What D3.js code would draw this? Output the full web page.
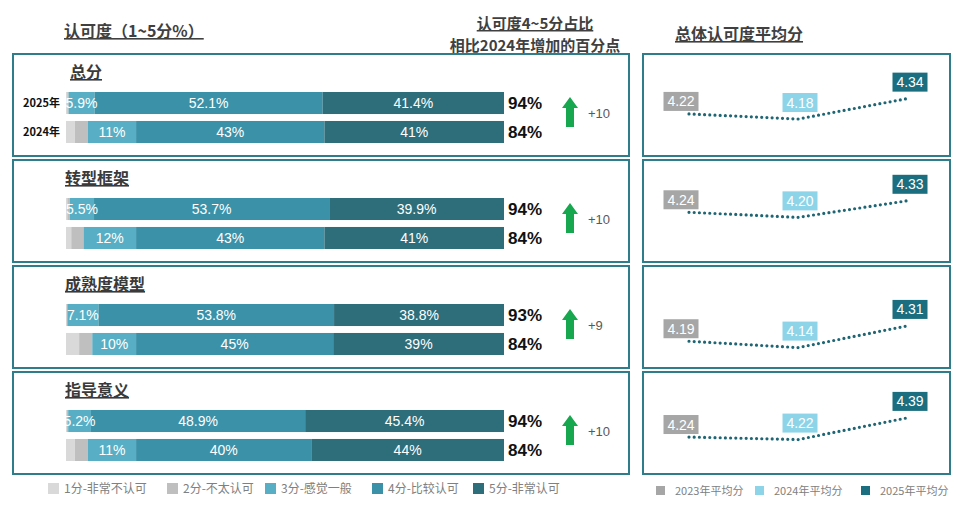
<!DOCTYPE html>
<html>
<head>
<meta charset="utf-8">
<script src="https://cdn.jsdelivr.net/npm/d3@7"></script>
<style>
  body { margin: 0; background: #fff; }
  text { font-family: "Liberation Sans", Arial, "Noto Sans CJK SC", sans-serif; }
</style>
</head>
<body>
<svg id="chart" width="959" height="518"></svg>
<script>
// data
const dims = ['总分', '转型框架', '成熟度模型', '指导意义'];
const years = ['2025年', '2024年'];
const levels = ['1分-非常不认可', '2分-不太认可', '3分-感觉一般', '4分-比较认可', '5分-非常认可'];
const share2025 = [
  [0.3, 0.3, 5.9, 52.1, 41.4],
  [0.3, 0.6, 5.5, 53.7, 39.9],
  [0.1, 0.2, 7.1, 53.8, 38.8],
  [0.2, 0.3, 5.2, 48.9, 45.4]
];
const share2024 = [
  [2, 3, 11, 43, 41],
  [1.2, 2.8, 12, 43, 41],
  [3, 3, 10, 45, 39],
  [2, 3, 11, 40, 44]
];
const top2025 = [94, 94, 93, 94];
const top2024 = [84, 84, 84, 84];
const gain = [10, 10, 9, 10];
const avgYears = ['2023年平均分', '2024年平均分', '2025年平均分'];
const avg2023 = [4.22, 4.24, 4.19, 4.24];
const avg2024 = [4.18, 4.20, 4.14, 4.22];
const avg2025 = [4.34, 4.33, 4.31, 4.39];
// lower end of each small chart's value axis (span 0.8)
const avgAxisMin = [3.89, 3.85, 3.98, 3.95];

const levelColors = ['#d9d9d9', '#bfbfbf', '#58aec4', '#3b91a8', '#2e6e7b'];
const avgColors = ['#a6a6a6', '#8dd4e8', '#1b6e7f'];
const border = '#2f7c8a';
const cjk = '"Noto Sans CJK SC", "Liberation Sans", sans-serif';

const svg = d3.select('#chart');

// panel rows
const panelY = d3.scaleBand().domain(dims).range([54, 474]).paddingInner(4 / 106);
const ph = panelY.bandwidth();

// bar scales
const x = d3.scaleLinear().domain([0, 100]).range([66, 504]);
const rowY = d3.scaleBand().domain(years).range([38, 89]).paddingInner(0.24);

// headers
svg.append('text').attr('x', 64).attr('y', 37)
  .style('font-family', cjk).style('font-size', '16px').style('font-weight', 'bold')
  .style('fill', '#404040').style('text-decoration', 'underline')
  .text('认可度（1~5分%）');
svg.append('text').attr('x', 535).attr('y', 29).attr('text-anchor', 'middle')
  .style('font-family', cjk).style('font-size', '15px').style('font-weight', 'bold')
  .style('fill', '#404040').style('text-decoration', 'underline')
  .text('认可度4~5分占比');
svg.append('text').attr('x', 535).attr('y', 51).attr('text-anchor', 'middle')
  .style('font-family', cjk).style('font-size', '15px').style('font-weight', 'bold')
  .style('fill', '#404040')
  .text('相比2024年增加的百分点');
svg.append('text').attr('x', 675).attr('y', 40)
  .style('font-family', cjk).style('font-size', '16px').style('font-weight', 'bold')
  .style('fill', '#404040').style('text-decoration', 'underline')
  .text('总体认可度平均分');

dims.forEach((dim, i) => {
  const top = panelY(dim);
  const g = svg.append('g').attr('transform', 'translate(0,' + top + ')');

  g.append('rect').attr('x', 13).attr('y', 0).attr('width', 616).attr('height', ph)
    .style('fill', 'none').style('stroke', border).style('stroke-width', 2);

  g.append('text').attr('x', i === 0 ? 70 : 65).attr('y', 24)
    .style('font-family', cjk).style('font-size', '16px').style('font-weight', 'bold')
    .style('fill', '#3a3a3a').style('text-decoration', 'underline')
    .text(dim);

  const rows = [
    { year: years[0], vals: share2025[i], top: top2025[i], fmt: d3.format('.1f') },
    { year: years[1], vals: share2024[i], top: top2024[i], fmt: d3.format('.0f') }
  ];

  rows.forEach((row) => {
    const y0 = rowY(row.year);
    const bh = rowY.bandwidth();
    let acc = 0;
    const segs = row.vals.map((v, k) => {
      const s = { k: k, v: v, x0: acc, x1: acc + v };
      acc += v;
      return s;
    });
    const rg = g.append('g');
    rg.selectAll('rect').data(segs).enter().append('rect')
      .attr('x', (d) => x(d.x0))
      .attr('y', y0)
      .attr('width', (d) => x(d.x1) - x(d.x0))
      .attr('height', bh)
      .style('fill', (d) => levelColors[d.k]);
    // white labels: the part that runs past the bar start disappears on white
    rg.selectAll('text').data(segs.filter((d) => d.k >= 2)).enter().append('text')
      .attr('x', (d) => (x(d.x0) + x(d.x1)) / 2)
      .attr('y', y0 + bh / 2 + 5)
      .attr('text-anchor', 'middle')
      .style('font-size', '14px').style('fill', '#fff')
      .text((d) => row.fmt(d.v) + '%');
    if (i === 0) {
      g.append('text').attr('x', 60).attr('y', y0 + bh / 2 + 4).attr('text-anchor', 'end')
        .style('font-family', cjk).style('font-size', '11px').style('font-weight', 'bold')
        .style('fill', '#111').text(row.year);
    }
    g.append('text').attr('x', 508).attr('y', y0 + bh / 2 + 6)
      .style('font-size', '17px').style('font-weight', 'bold').style('fill', '#111')
      .text(row.top + '%');
  });

  // green arrow
  const ax = 570, ay0 = 43, ay1 = 73;
  g.append('path')
    .attr('d', `M${ax},${ay0} L${ax + 8},${ay0 + 11} L${ax + 4},${ay0 + 11} L${ax + 4},${ay1}
      L${ax - 4},${ay1} L${ax - 4},${ay0 + 11} L${ax - 8},${ay0 + 11} Z`)
    .style('fill', '#17a84f');
  g.append('text').attr('x', 588).attr('y', 64)
    .style('font-size', '13px').style('fill', '#595959')
    .text('+' + gain[i]);

  // right panel: average scores
  const rg = svg.append('g').attr('transform', 'translate(0,' + top + ')');
  rg.append('rect').attr('x', 643).attr('y', 0).attr('width', 307).attr('height', ph)
    .style('fill', 'none').style('stroke', border).style('stroke-width', 2);

  const ax2 = d3.scalePoint().domain(avgYears).range([689, 907]);
  const ay = d3.scaleLinear().domain([avgAxisMin[i], avgAxisMin[i] + 0.8]).range([ph, 0]);
  const pts = [avg2023[i], avg2024[i], avg2025[i]].map((v, k) => ({ k: k, v: v, yr: avgYears[k] }));

  rg.append('path').datum(pts)
    .attr('d', d3.line().x((d) => ax2(d.yr)).y((d) => ay(d.v)))
    .style('fill', 'none').style('stroke', '#1f6675').style('stroke-width', 3.2)
    .style('stroke-linecap', 'round').style('stroke-dasharray', '0,5.2');

  const boxDx = [-8, 2, 3];
  const boxDy = [-3, -7, -7];
  const lab = rg.selectAll('g.lab').data(pts).enter().append('g').attr('class', 'lab')
    .attr('transform', (d) => 'translate(' + (ax2(d.yr) + boxDx[d.k]) + ',' + (ay(d.v) + boxDy[d.k]) + ')');
  lab.append('rect').attr('x', -17.5).attr('y', -19).attr('width', 35).attr('height', 19)
    .style('fill', (d) => avgColors[d.k]);
  lab.append('text').attr('x', 0).attr('y', -4.5).attr('text-anchor', 'middle')
    .style('font-size', '14px').style('fill', '#fff')
    .text((d) => d3.format('.2f')(d.v));
});

// legend left
const legX = [48, 167, 265, 372, 473];
const lg = svg.append('g');
levels.forEach((name, k) => {
  lg.append('rect').attr('x', legX[k]).attr('y', 483).attr('width', 11).attr('height', 11)
    .style('fill', levelColors[k]);
  lg.append('text').attr('x', legX[k] + 16).attr('y', 493)
    .style('font-family', cjk).style('font-size', '12px').style('fill', '#808080')
    .text(name);
});

// legend right
const leg2X = [656, 755, 861];
avgYears.forEach((name, k) => {
  lg.append('rect').attr('x', leg2X[k]).attr('y', 486).attr('width', 9).attr('height', 9)
    .style('fill', avgColors[k]);
  lg.append('text').attr('x', leg2X[k] + 19).attr('y', 495)
    .style('font-family', cjk).style('font-size', '11px').style('fill', '#808080')
    .text(name);
});
</script>
</body>
</html>
